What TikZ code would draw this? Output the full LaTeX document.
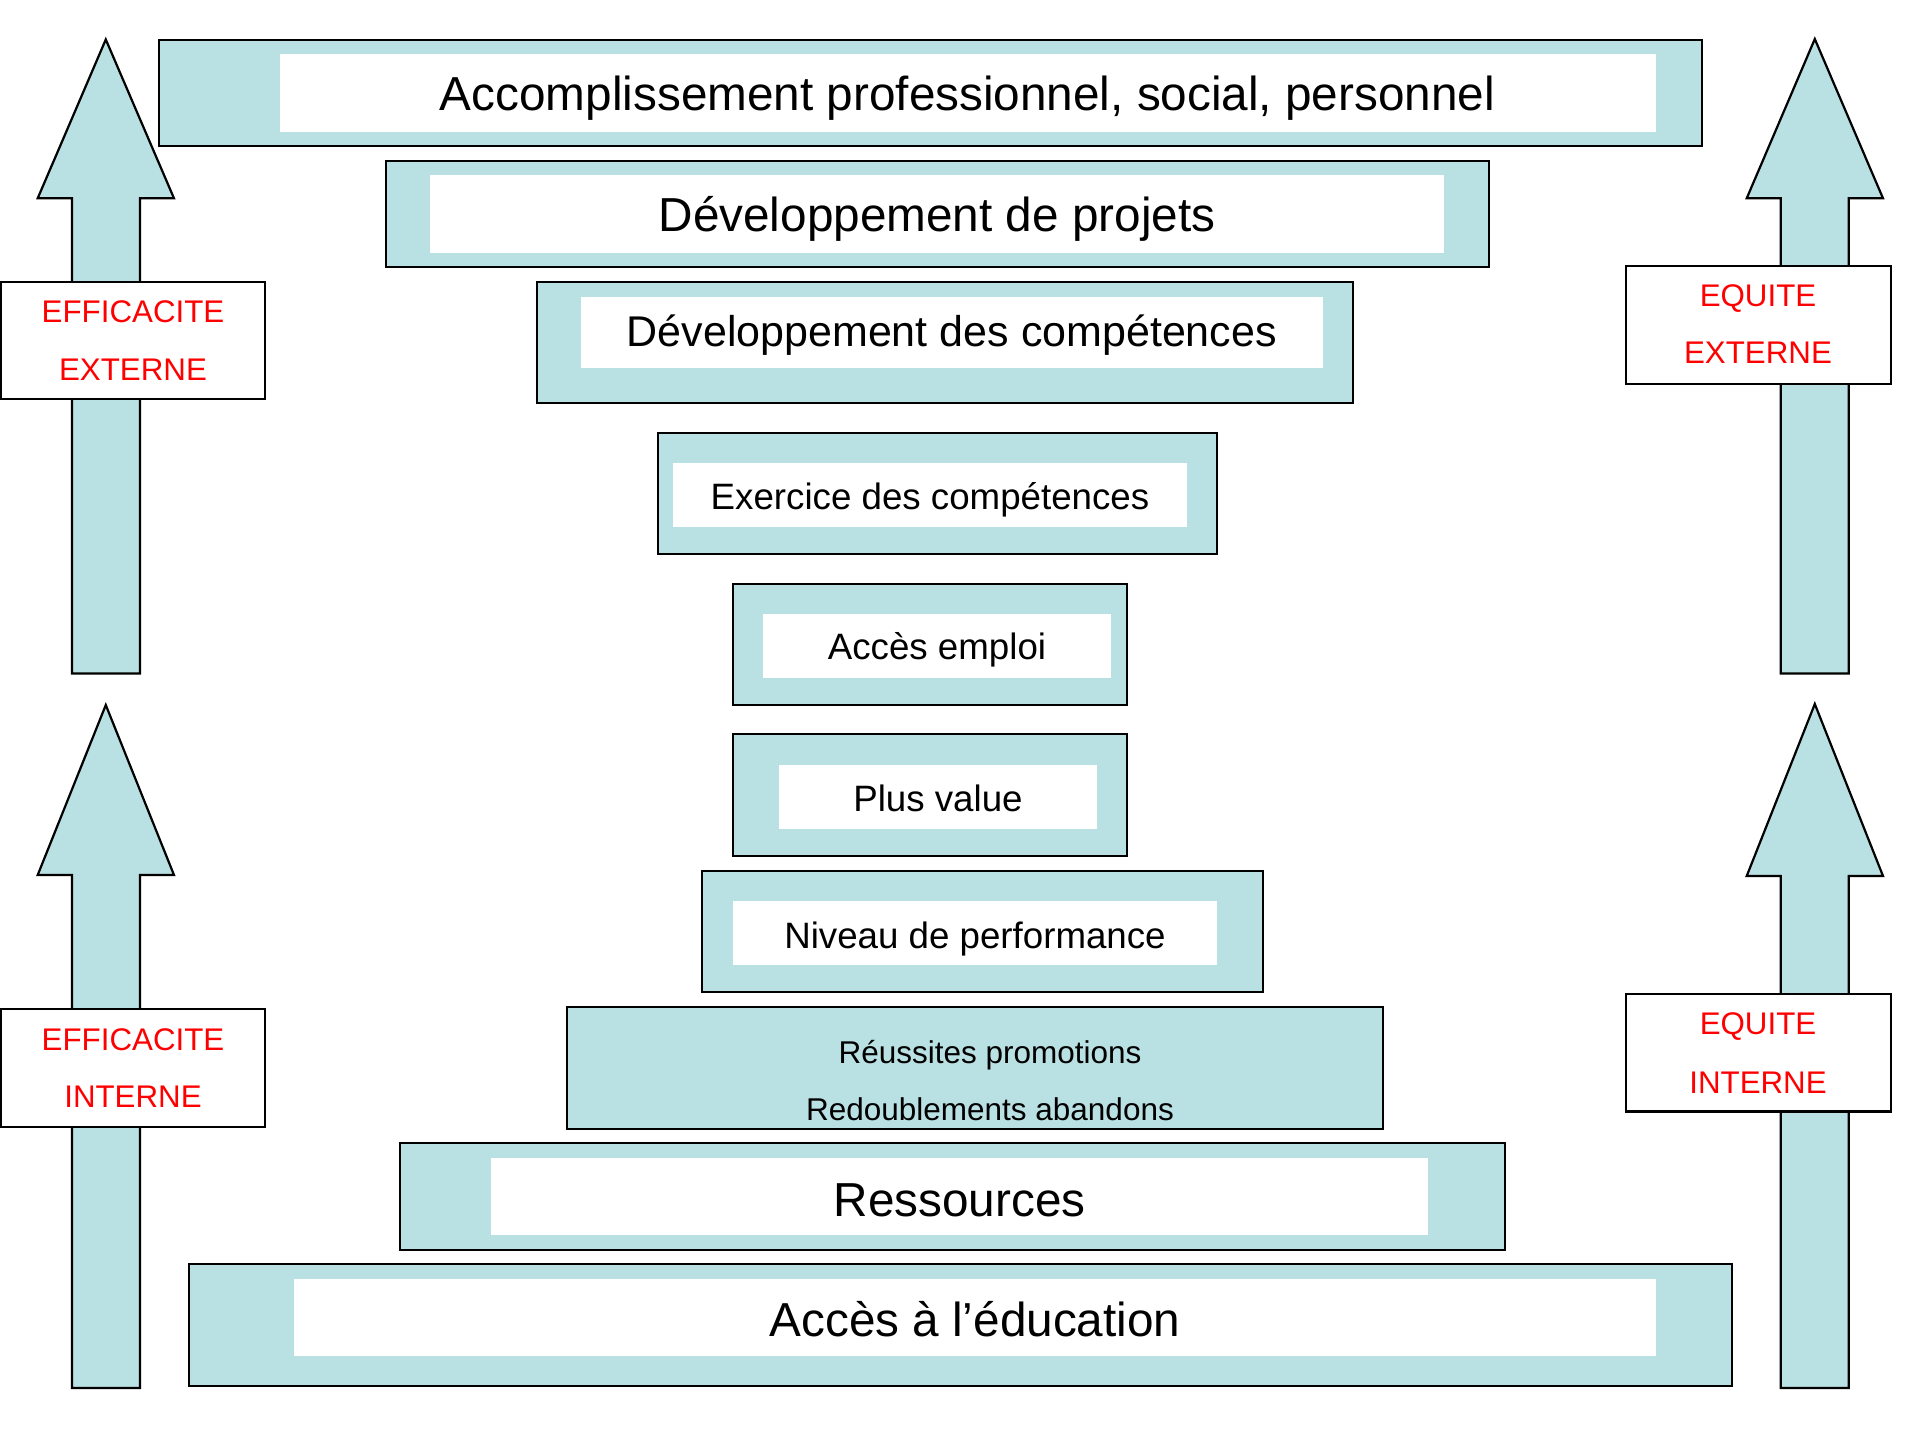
\documentclass[tikz,border=0pt]{standalone}
\usepackage{fontspec}
\setmainfont{Liberation Sans}
\definecolor{tealfill}{RGB}{185,224,226}
\definecolor{labred}{RGB}{255,0,0}
\tikzset{
  x=1pt, y=-1pt,
  outline/.style={draw=black, line width=2.2pt, fill=tealfill},
  innerwhite/.style={fill=white},
  bigtxt/.style={anchor=base, inner sep=0pt, font=\fontsize{47.7}{57}\selectfont},
  medtxt/.style={anchor=base, inner sep=0pt, font=\fontsize{36.7}{44}\selectfont},
  smalltxt/.style={anchor=base, inner sep=0pt, font=\fontsize{31.5}{38}\selectfont},
  redtxt/.style={anchor=base, inner sep=0pt, text=labred, font=\fontsize{31.3}{38}\selectfont},
  labelbox/.style={draw=black, line width=2.2pt, fill=white},
  uparrow/.style={draw=black, line width=2.2pt, fill=tealfill, line join=miter},
}
% \layer{name}{x1}{y1}{x2}{y2}{ix1}{iy1}{ix2}{iy2}{cx}{baseline}{style}{text}
\newcommand{\layerbox}[9]{%
  \draw[outline] (#2,#3) rectangle (#4,#5);
  \fill[innerwhite] (#6,#7) rectangle (#8,#9);
}
\begin{document}
\begin{tikzpicture}
\useasboundingbox (0,0) rectangle (1920,1440);
\fill[white] (0,0) rectangle (1920,1440);

% ---- arrows ----
\draw[uparrow] (72,673.5) -- (72,198.3) -- (37.7,198.3) -- (105.8,39.5) -- (174,198.3) -- (140,198.3) -- (140,673.5) -- cycle;
\draw[uparrow] (72,1388) -- (72,875) -- (37.7,875) -- (105.8,705) -- (174,875) -- (140,875) -- (140,1388) -- cycle;
\draw[uparrow] (1780.7,673.5) -- (1780.7,198.3) -- (1746.7,198.3) -- (1814.8,39) -- (1883,198.3) -- (1848.7,198.3) -- (1848.7,673.5) -- cycle;
\draw[uparrow] (1780.7,1388) -- (1780.7,876) -- (1746.7,876) -- (1814.8,704) -- (1883,876) -- (1848.7,876) -- (1848.7,1388) -- cycle;

% ---- label boxes ----
\draw[labelbox] (1.2,281.7) rectangle (265,398.7);
\node[redtxt] (ee1) at (133,322.7) {EFFICACITE};
\node[redtxt] (ee2) at (133,380) {EXTERNE};
\draw[labelbox] (1.2,1009) rectangle (265,1127);
\node[redtxt] (ei1) at (133,1050) {EFFICACITE};
\node[redtxt] (ei2) at (133,1107.5) {INTERNE};
\draw[labelbox] (1625.7,266.3) rectangle (1890.7,383.7);
\node[redtxt] (qe1) at (1758,306) {EQUITE};
\node[redtxt] (qe2) at (1758,363.3) {EXTERNE};
\draw[labelbox] (1625.7,994) rectangle (1890.7,1111.5);
\node[redtxt] (qi1) at (1758,1034.6) {EQUITE};
\node[redtxt] (qi2) at (1758,1093) {INTERNE};

% ---- layers ----
\layerbox{l1}{158.7}{40}{1701.7}{145.7}{280}{54}{1656}{131.7}
\node[bigtxt] (t1) at (967.5,110.7) {Accomplissement professionnel, social, personnel};

\layerbox{l2}{386}{160.7}{1489.3}{266.7}{430}{175}{1444}{252.7}
\node[bigtxt] (t2) at (937,231.7) {Développement de projets};

\layerbox{l3}{536.7}{281.7}{1353.3}{402.7}{581}{296.7}{1322.7}{367.7}
\node[bigtxt, font=\fontsize{43}{52}\selectfont] (t3) at (951.8,346.7) {Développement des compétences};

\layerbox{l4}{657.7}{432.7}{1217}{554}{673}{463}{1187}{526.7}
\node[medtxt] (t4) at (930,509.3) {Exercice des compétences};

\layerbox{l5}{733.3}{584}{1127}{705}{763}{614}{1111}{677.7}
\node[medtxt] (t5) at (937,659.3) {Accès emploi};

\layerbox{l6}{733.3}{734.3}{1127}{855.7}{779}{765}{1096.7}{828.7}
\node[medtxt] (t6) at (938,811.7) {Plus value};

\layerbox{l7}{702.3}{871}{1262.7}{992.3}{733}{901}{1217}{964.7}
\node[medtxt] (t7) at (975,948.7) {Niveau de performance};

\draw[outline] (567,1007.3) rectangle (1383.3,1128.7);
\node[smalltxt] (t8a) at (990,1063.3) {Réussites promotions};
\node[smalltxt] (t8b) at (990,1120) {Redoublements abandons};

\layerbox{l9}{400}{1143.3}{1505.3}{1250}{491}{1157.7}{1428}{1235}
\node[bigtxt] (t9) at (959.5,1216.7) {Ressources};

\layerbox{l10}{189}{1264.3}{1732}{1386}{294}{1278.7}{1656}{1356}
\node[bigtxt] (t10) at (975,1336.7) {Accès à l’éducation};
\end{tikzpicture}
\end{document}
